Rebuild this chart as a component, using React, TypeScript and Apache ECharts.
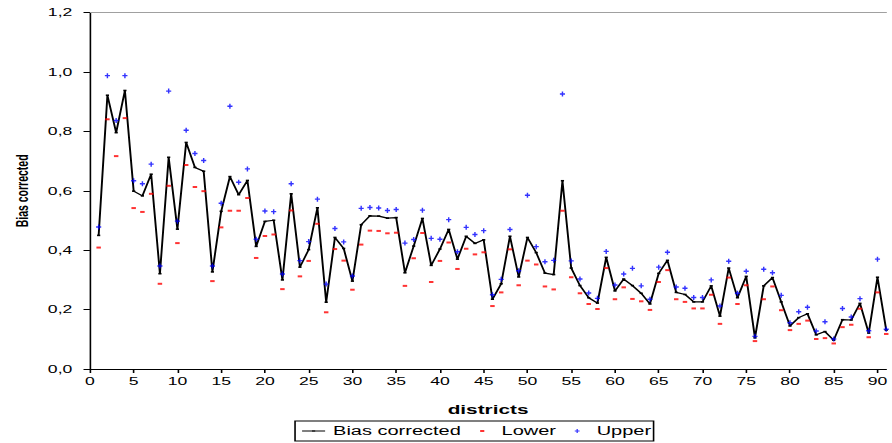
import React, { useEffect, useRef } from "react";
import * as echarts from "echarts";

// ---- data ----
const districts = [
  1, 2, 3, 4, 5, 6, 7, 8, 9, 10, 11, 12, 13, 14, 15, 16, 17, 18, 19, 20,
  21, 22, 23, 24, 25, 26, 27, 28, 29, 30, 31, 32, 33, 34, 35, 36, 37, 38, 39, 40,
  41, 42, 43, 44, 45, 46, 47, 48, 49, 50, 51, 52, 53, 54, 55, 56, 57, 58, 59, 60,
  61, 62, 63, 64, 65, 66, 67, 68, 69, 70, 71, 72, 73, 74, 75, 76, 77, 78, 79, 80,
  81, 82, 83, 84, 85, 86, 87, 88, 89, 90, 91,
];

const biasCorrected = [
  0.45, 0.922, 0.796, 0.938, 0.599, 0.583, 0.656, 0.321, 0.713, 0.471,
  0.763, 0.679, 0.666, 0.327, 0.531, 0.648, 0.587, 0.635, 0.413, 0.497,
  0.501, 0.3, 0.59, 0.343, 0.402, 0.543, 0.225, 0.443, 0.406, 0.296,
  0.486, 0.516, 0.515, 0.508, 0.51, 0.324, 0.414, 0.507, 0.349, 0.404,
  0.47, 0.37, 0.447, 0.423, 0.435, 0.235, 0.287, 0.447, 0.31, 0.443,
  0.392, 0.323, 0.318, 0.634, 0.34, 0.281, 0.24, 0.222, 0.376, 0.263,
  0.303, 0.281, 0.255, 0.219, 0.322, 0.366, 0.258, 0.251, 0.226, 0.226,
  0.28, 0.178, 0.34, 0.24, 0.312, 0.105, 0.28, 0.308, 0.226, 0.145,
  0.173, 0.186, 0.115, 0.126, 0.097, 0.166, 0.165, 0.221, 0.121, 0.309,
  0.131,
];

const lower = [
  0.409, 0.841, 0.717, 0.845, 0.542, 0.529, 0.59, 0.287, 0.617, 0.424,
  0.687, 0.613, 0.599, 0.296, 0.477, 0.533, 0.533, 0.576, 0.374, 0.448,
  0.453, 0.269, 0.534, 0.312, 0.364, 0.489, 0.191, 0.404, 0.365, 0.267,
  0.419, 0.466, 0.465, 0.457, 0.459, 0.28, 0.373, 0.458, 0.293, 0.364,
  0.426, 0.337, 0.405, 0.386, 0.393, 0.212, 0.258, 0.403, 0.282, 0.365,
  0.352, 0.278, 0.268, 0.533, 0.309, 0.255, 0.219, 0.202, 0.34, 0.235,
  0.275, 0.236, 0.228, 0.199, 0.293, 0.333, 0.235, 0.226, 0.204, 0.204,
  0.25, 0.152, 0.308, 0.219, 0.282, 0.094, 0.235, 0.278, 0.198, 0.131,
  0.152, 0.163, 0.101, 0.104, 0.086, 0.141, 0.149, 0.203, 0.107, 0.258,
  0.118,
];

const upper = [
  0.478, 0.988, 0.837, 0.988, 0.634, 0.624, 0.69, 0.347, 0.936, 0.498,
  0.804, 0.726, 0.702, 0.347, 0.558, 0.885, 0.629, 0.674, 0.437, 0.532,
  0.53, 0.32, 0.624, 0.365, 0.429, 0.572, 0.286, 0.473, 0.428, 0.313,
  0.541, 0.544, 0.542, 0.534, 0.537, 0.424, 0.436, 0.535, 0.44, 0.437,
  0.503, 0.395, 0.477, 0.453, 0.466, 0.25, 0.302, 0.47, 0.331, 0.585,
  0.412, 0.361, 0.366, 0.926, 0.364, 0.303, 0.256, 0.238, 0.396, 0.283,
  0.32, 0.339, 0.28, 0.235, 0.343, 0.393, 0.276, 0.272, 0.241, 0.241,
  0.3, 0.212, 0.363, 0.255, 0.329, 0.11, 0.336, 0.324, 0.248, 0.156,
  0.193, 0.208, 0.128, 0.159, 0.101, 0.204, 0.175, 0.237, 0.129, 0.37,
  0.134,
];

const yTickLabels = ["0,0", "0,2", "0,4", "0,6", "0,8", "1,0", "1,2"];

// ---- layout ----
const STRETCH = 1.6; // the reference is stretched horizontally
const H = 443;
const W = 892 / STRETCH;
const FONT = "'Liberation Sans', Arial, Helvetica, sans-serif";

const PLUS = "path://M0,1.8H5V3.2H0Z M1.8,0H3.2V5H1.8Z";
const ICON_LINE = "path://M0,0M14.4,10M0,4.5H14.4V5.5H0Z M6.2,4.2H8.2V5.8H6.2Z";
const ICON_DASH = "path://M0,0M14.4,10M6,4H8.6V6H6Z";
const ICON_PLUS = "path://M0,0M14.4,10M5.7,4.5H8.7V5.5H5.7Z M6.8,3H7.6V7H6.8Z";

export default function App() {
  const ref = useRef<HTMLDivElement>(null);

  useEffect(() => {
    if (!ref.current) return;
    const chart = echarts.init(ref.current, undefined, {
      renderer: "svg",
      width: W,
      height: H,
    });

    const toPairs = (vals: number[]) => districts.map((d, i) => [d, vals[i]]);

    chart.setOption({
      animation: false,
      textStyle: { fontFamily: FONT, color: "#000" },
      grid: { left: 52.25, right: 0.2, top: 12.7, bottom: 74, containLabel: false },
      xAxis: [
        {
          type: "value",
          min: 0,
          max: 91,
          interval: 5,
          name: "districts",
          nameLocation: "middle",
          nameGap: 34,
          nameTextStyle: { fontSize: 13, fontWeight: "bold", color: "#000", fontFamily: FONT },
          axisLine: { show: true, onZero: false, lineStyle: { color: "#000", width: 1 } },
          axisTick: { show: true, inside: false, length: 4, lineStyle: { color: "#000", width: 1 } },
          axisLabel: { fontSize: 11, color: "#000", margin: 7, showMaxLabel: false, fontFamily: FONT },
          splitLine: { show: false },
        },
        {
          type: "value",
          min: 0,
          max: 91,
          position: "top",
          axisLine: { show: true, onZero: false, lineStyle: { color: "#a0a0a0", width: 1 } },
          axisTick: { show: false },
          axisLabel: { show: false },
          splitLine: { show: false },
        },
      ],
      yAxis: {
        type: "value",
        min: 0,
        max: 1.2,
        interval: 0.2,
        name: "Bias corrected",
        nameLocation: "middle",
        nameGap: 35,
        nameTextStyle: { fontSize: 10.5, fontWeight: "bold", color: "#000", fontFamily: FONT },
        axisLine: { show: true, onZero: false, lineStyle: { color: "#000", width: 1 } },
        axisTick: { show: true, inside: false, length: 4, lineStyle: { color: "#000", width: 1 } },
        axisLabel: {
          fontSize: 11,
          color: "#000",
          margin: 11,
          fontFamily: FONT,
          formatter: (v: number) => yTickLabels[Math.round(v / 0.2)] ?? "",
        },
        splitLine: { show: false },
      },
      legend: {
        left: 184.4,
        top: 421,
        orient: "horizontal",
        itemWidth: 14.4,
        itemHeight: 10,
        itemGap: 6,
        padding: [3.5, 1.5, 3.5, 4.4],
        borderColor: "#000",
        borderWidth: 1,
        selectedMode: false,
        itemStyle: { borderWidth: 0 },
        textStyle: { fontSize: 12.5, color: "#000", fontFamily: FONT },
        data: [
          { name: "Bias corrected", icon: ICON_LINE },
          { name: "Lower", icon: ICON_DASH },
          { name: "Upper", icon: ICON_PLUS },
        ],
      },
      series: [
        {
          name: "Bias corrected",
          type: "line",
          data: toPairs(biasCorrected),
          symbol: "rect",
          symbolSize: [2, 1.6],
          showSymbol: true,
          showAllSymbol: true,
          lineStyle: { color: "#000", width: 1.2 },
          itemStyle: { color: "#000", borderWidth: 0 },
          z: 2,
        },
        {
          name: "Lower",
          type: "scatter",
          data: toPairs(lower),
          symbol: "rect",
          symbolSize: [2.8, 2],
          itemStyle: { color: "#ff0000", borderWidth: 0 },
          z: 3,
        },
        {
          name: "Upper",
          type: "scatter",
          data: toPairs(upper),
          symbol: PLUS,
          symbolSize: [3.2, 5],
          itemStyle: { color: "#0000ff", borderWidth: 0 },
          z: 3,
        },
      ],
    });

    return () => chart.dispose();
  }, []);

  return (
    <div
      style={{
        position: "fixed",
        left: 0,
        top: 0,
        width: 892,
        height: H,
        overflow: "hidden",
        background: "#fff",
      }}
    >
      <div
        ref={ref}
        style={{
          width: W,
          height: H,
          transform: `scaleX(${STRETCH})`,
          transformOrigin: "0 0",
        }}
      />
    </div>
  );
}
